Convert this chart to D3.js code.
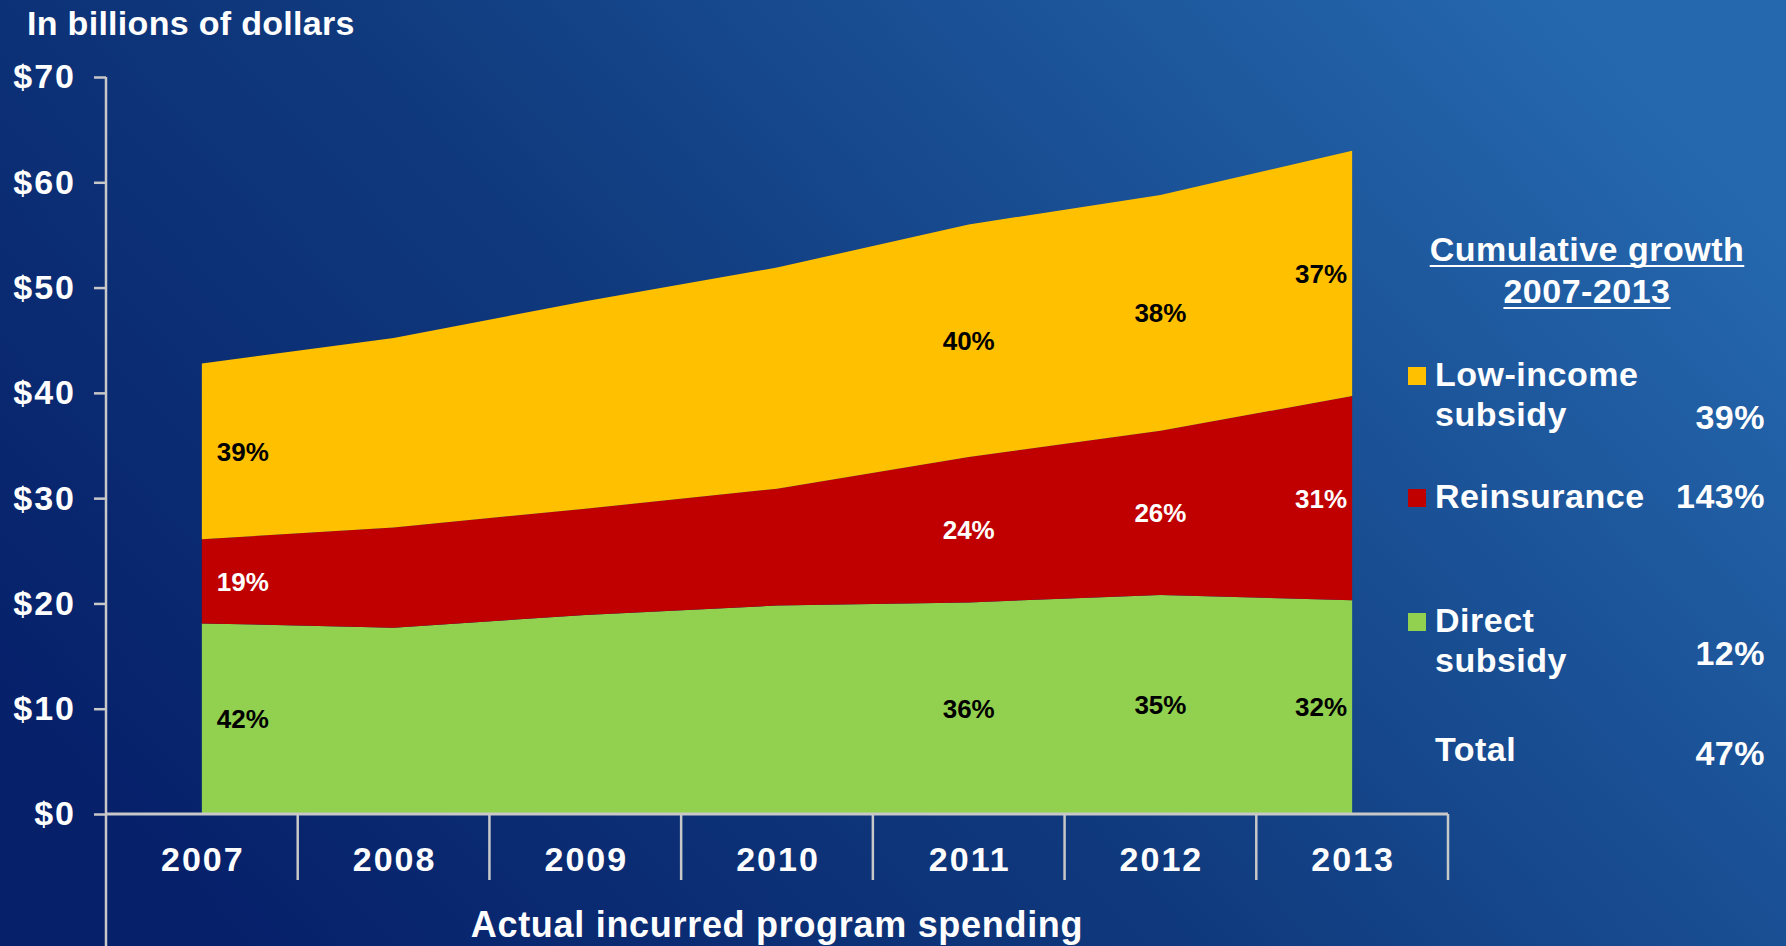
<!DOCTYPE html>
<html>
<head>
<meta charset="utf-8">
<script src="https://cdn.jsdelivr.net/npm/d3@7"></script>
<style>
  html, body { margin: 0; padding: 0; background: #0a2a70; overflow: hidden; }
  svg { display: block; font-family: Arial, "Liberation Sans", sans-serif; font-weight: bold; }
</style>
</head>
<body>
<div id="chart"></div>
<script>
// values, in billions of dollars
var years = ["2007", "2008", "2009", "2010", "2011", "2012", "2013"];
var directSubsidy = [18.1, 17.7, 18.9, 19.8, 20.1, 20.8, 20.3];
var reinsurance   = [8.0, 9.5, 10.1, 11.1, 13.8, 15.6, 19.4];
var lowIncome     = [16.7, 18.0, 19.7, 21.0, 22.1, 22.4, 23.3];

// share labels printed inside the areas
var labelYears     = ["2007", "2011", "2012", "2013"];
var directShare    = ["42%", "36%", "35%", "32%"];
var reinsShare     = ["19%", "24%", "26%", "31%"];
var lowIncomeShare = ["39%", "40%", "38%", "37%"];

// legend
var legendLines = [["Low-income", "subsidy"], ["Reinsurance"], ["Direct", "subsidy"]];
var growth = ["39%", "143%", "12%"];
var totalGrowth = "47%";

var yTicks = [0, 10, 20, 30, 40, 50, 60, 70];

var W = 1786, H = 946;
var colors = {lis: "#FFC000", reins: "#C00000", direct: "#92D050"};
var axisColor = "#c8c8c8";

var svg = d3.select("#chart").append("svg")
    .attr("width", W)
    .attr("height", H);

// background gradient
var grad = svg.append("defs").append("linearGradient")
    .attr("id", "bg")
    .attr("x1", "0%").attr("y1", "75%")
    .attr("x2", "100%").attr("y2", "25%");
grad.append("stop").attr("offset", "0%").attr("stop-color", "#06206a");
grad.append("stop").attr("offset", "45%").attr("stop-color", "#103a7e");
grad.append("stop").attr("offset", "100%").attr("stop-color", "#2568ae");

svg.append("rect")
    .attr("width", W).attr("height", H)
    .attr("fill", "url(#bg)");

// scales
var x = d3.scaleBand()
    .domain(years)
    .range([106, 1448]);

var y = d3.scaleLinear()
    .domain([0, 70])
    .range([814, 77]);

// stacked data
var table = years.map(function(yr, i) {
    return {year: yr, direct: directSubsidy[i], reins: reinsurance[i], lis: lowIncome[i]};
});
var stacked = d3.stack().keys(["direct", "reins", "lis"])(table);

var area = d3.area()
    .x(function(d) { return x(d.data.year) + x.bandwidth() / 2; })
    .y0(function(d) { return y(d[0]); })
    .y1(function(d) { return y(d[1]); });

svg.append("g").selectAll("path")
    .data(stacked)
    .join("path")
    .attr("fill", function(d) { return colors[d.key]; })
    .attr("d", area);

// share labels
var labelStyle = {
    direct: {text: directShare, fill: "#000"},
    reins:  {text: reinsShare, fill: "#fff"},
    lis:    {text: lowIncomeShare, fill: "#000"}
};
var labelData = [];
stacked.forEach(function(s) {
    labelYears.forEach(function(yr, j) {
        var i = years.indexOf(yr);
        labelData.push({key: s.key, year: yr, idx: i, mid: (s[i][0] + s[i][1]) / 2,
                        text: labelStyle[s.key].text[j], fill: labelStyle[s.key].fill});
    });
});

svg.append("g").selectAll("text")
    .data(labelData)
    .join("text")
    .attr("x", function(d) {
        var cx = x(d.year) + x.bandwidth() / 2;
        if (d.idx === 0) return cx + 15;
        if (d.idx === years.length - 1) return cx - 5;
        return cx;
    })
    .attr("y", function(d) { return y(d.mid); })
    .attr("dy", "0.36em")
    .attr("text-anchor", function(d) {
        if (d.idx === 0) return "start";
        if (d.idx === years.length - 1) return "end";
        return "middle";
    })
    .attr("fill", function(d) { return d.fill; })
    .style("font-size", "26px")
    .text(function(d) { return d.text; });

// y axis
var yAxis = svg.append("g")
    .attr("transform", "translate(106,0)")
    .call(d3.axisLeft(y).tickValues(yTicks).tickSize(12).tickSizeOuter(0).tickPadding(18)
        .tickFormat(function(d) { return "$" + d; }));
yAxis.select(".domain").remove();
yAxis.selectAll(".tick line").attr("stroke", axisColor).attr("stroke-width", 2.5);
yAxis.selectAll(".tick text")
    .attr("fill", "#fff")
    .style("font-size", "34px")
    .style("letter-spacing", "2px")
    .style("font-family", "Arial, 'Liberation Sans', sans-serif")
    .style("font-weight", "bold");

// vertical axis line running all the way down
svg.append("line")
    .attr("x1", 106).attr("x2", 106)
    .attr("y1", y(70)).attr("y2", H)
    .attr("stroke", axisColor).attr("stroke-width", 2.5);

// x axis line and category dividers
svg.append("line")
    .attr("x1", x.range()[0]).attr("x2", x.range()[1])
    .attr("y1", y(0)).attr("y2", y(0))
    .attr("stroke", axisColor).attr("stroke-width", 3);

var edges = years.map(function(yr) { return x(yr); }).concat([x.range()[1]]);
svg.append("g").selectAll("line")
    .data(edges.slice(1))
    .join("line")
    .attr("x1", function(d) { return d; })
    .attr("x2", function(d) { return d; })
    .attr("y1", y(0)).attr("y2", 880)
    .attr("stroke", axisColor).attr("stroke-width", 2.5);

var xAxis = svg.append("g")
    .attr("transform", "translate(0," + y(0) + ")")
    .call(d3.axisBottom(x).tickSize(0).tickPadding(33));
xAxis.select(".domain").remove();
xAxis.selectAll(".tick text")
    .attr("fill", "#fff")
    .attr("dx", "1px")
    .style("font-size", "34px")
    .style("letter-spacing", "2px")
    .style("font-family", "Arial, 'Liberation Sans', sans-serif")
    .style("font-weight", "bold");

svg.append("text")
    .attr("x", (x.range()[0] + x.range()[1]) / 2)
    .attr("y", 937)
    .attr("text-anchor", "middle")
    .attr("fill", "#fff")
    .style("font-size", "36px")
    .style("letter-spacing", "0.7px")
    .text("Actual incurred program spending");

// top-left unit label
svg.append("text")
    .attr("x", 27)
    .attr("y", 35)
    .attr("fill", "#fff")
    .style("font-size", "34px")
    .style("letter-spacing", "0.3px")
    .text("In billions of dollars");

// legend
var lg = svg.append("g").attr("fill", "#fff")
    .style("font-size", "34px")
    .style("letter-spacing", "0.5px");

["Cumulative growth", "2007-2013"].forEach(function(t, i) {
    var base = 261 + i * 42;
    var txt = lg.append("text")
        .attr("x", 1587).attr("y", base)
        .attr("text-anchor", "middle")
        .text(t);
    var w = txt.node().getComputedTextLength();
    lg.append("line")
        .attr("x1", 1587 - w / 2).attr("x2", 1587 + w / 2)
        .attr("y1", base + 5).attr("y2", base + 5)
        .attr("stroke", "#fff").attr("stroke-width", 2);
});

var legendKeys = ["lis", "reins", "direct"];
var itemTop = [386, 508, 632];
var valueBase = [429, 508, 665];

legendKeys.forEach(function(k, i) {
    lg.append("rect")
        .attr("x", 1408).attr("y", itemTop[i] - 19)
        .attr("width", 18).attr("height", 18)
        .attr("fill", colors[k]);
    legendLines[i].forEach(function(line, j) {
        lg.append("text")
            .attr("x", 1435).attr("y", itemTop[i] + j * 40)
            .text(line);
    });
    lg.append("text")
        .attr("x", 1765).attr("y", valueBase[i])
        .attr("text-anchor", "end")
        .text(growth[i]);
});

lg.append("text").attr("x", 1435).attr("y", 761).text("Total");
lg.append("text").attr("x", 1765).attr("y", 765).attr("text-anchor", "end").text(totalGrowth);
</script>
</body>
</html>
